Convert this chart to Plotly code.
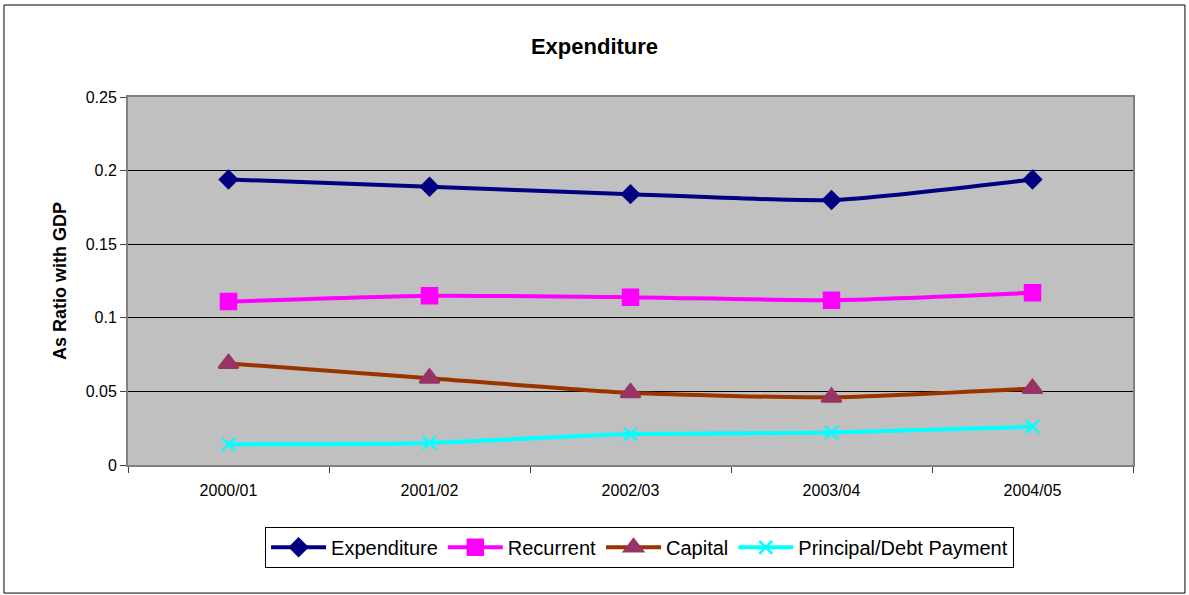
import plotly.graph_objects as go

years = ["2000/01", "2001/02", "2002/03", "2003/04", "2004/05"]
expenditure = [0.194, 0.189, 0.184, 0.180, 0.194]
recurrent = [0.111, 0.115, 0.114, 0.112, 0.117]
capital = [0.069, 0.059, 0.049, 0.046, 0.052]
principal = [0.014, 0.015, 0.021, 0.022, 0.026]

series = [
    ("Expenditure", expenditure, "#000080", "#000080", "diamond", 13),
    ("Recurrent", recurrent, "#FF00FF", "#FF00FF", "square", 15),
    ("Capital", capital, "#993300", "#993366", "triangle-up", 17),
    ("Principal/Debt Payment", principal, "#00FFFF", "#00FFFF", "x-thin", 13),
]

fig = go.Figure()
for name, vals, lc, mc, sym, sz in series:
    fig.add_trace(go.Scatter(
        x=years, y=vals, name=name, mode="lines+markers",
        line=dict(color=lc, width=4, shape="spline", smoothing=0.6),
        marker=dict(symbol=sym, size=sz, color=mc, line=dict(color=mc, width=2.5)),
    ))

fig.update_layout(
    width=1189, height=595,
    margin=dict(l=128, r=56, t=97, b=130),
    paper_bgcolor="white", plot_bgcolor="#C0C0C0",
    font=dict(family="Arial, Liberation Sans, sans-serif", size=16, color="black"),
    title=dict(text="<b>Expenditure</b>", x=0.5, xanchor="center", y=0.923,
               yanchor="middle", font=dict(size=22)),
    showlegend=True,
    legend=dict(orientation="h", x=0.509, xanchor="center", y=-0.168, yanchor="top",
                bordercolor="black", borderwidth=1, font=dict(size=20),
                itemwidth=55, traceorder="normal"),
    shapes=[dict(type="rect", xref="paper", yref="paper", x0=-0.1234, x1=1.0517,
                 y0=-0.348, y1=1.25, line=dict(color="black", width=1))],
)
fig.update_xaxes(range=[-0.5, 4.5], tickson="boundaries", ticks="outside", ticklen=6,
                 tickcolor="#404040", showline=True, linecolor="#808080", linewidth=2,
                 mirror=True, showgrid=False, tickfont=dict(size=16), ticklabelstandoff=10)
fig.update_yaxes(range=[0, 0.25], tickvals=[0, 0.05, 0.1, 0.15, 0.2, 0.25],
                 ticktext=["0", "0.05", "0.1", "0.15", "0.2", "0.25"],
                 ticks="outside", ticklen=6, tickcolor="#404040",
                 showline=True, linecolor="#808080", linewidth=2, mirror=True,
                 showgrid=True, gridcolor="black", gridwidth=1, zeroline=False,
                 tickfont=dict(size=16),
                 title=dict(text="<b>As Ratio with GDP</b>", font=dict(size=18), standoff=14))

fig.write_html("out.html", config={"displayModeBar": False},
               post_script="document.body.style.margin='0px';")
